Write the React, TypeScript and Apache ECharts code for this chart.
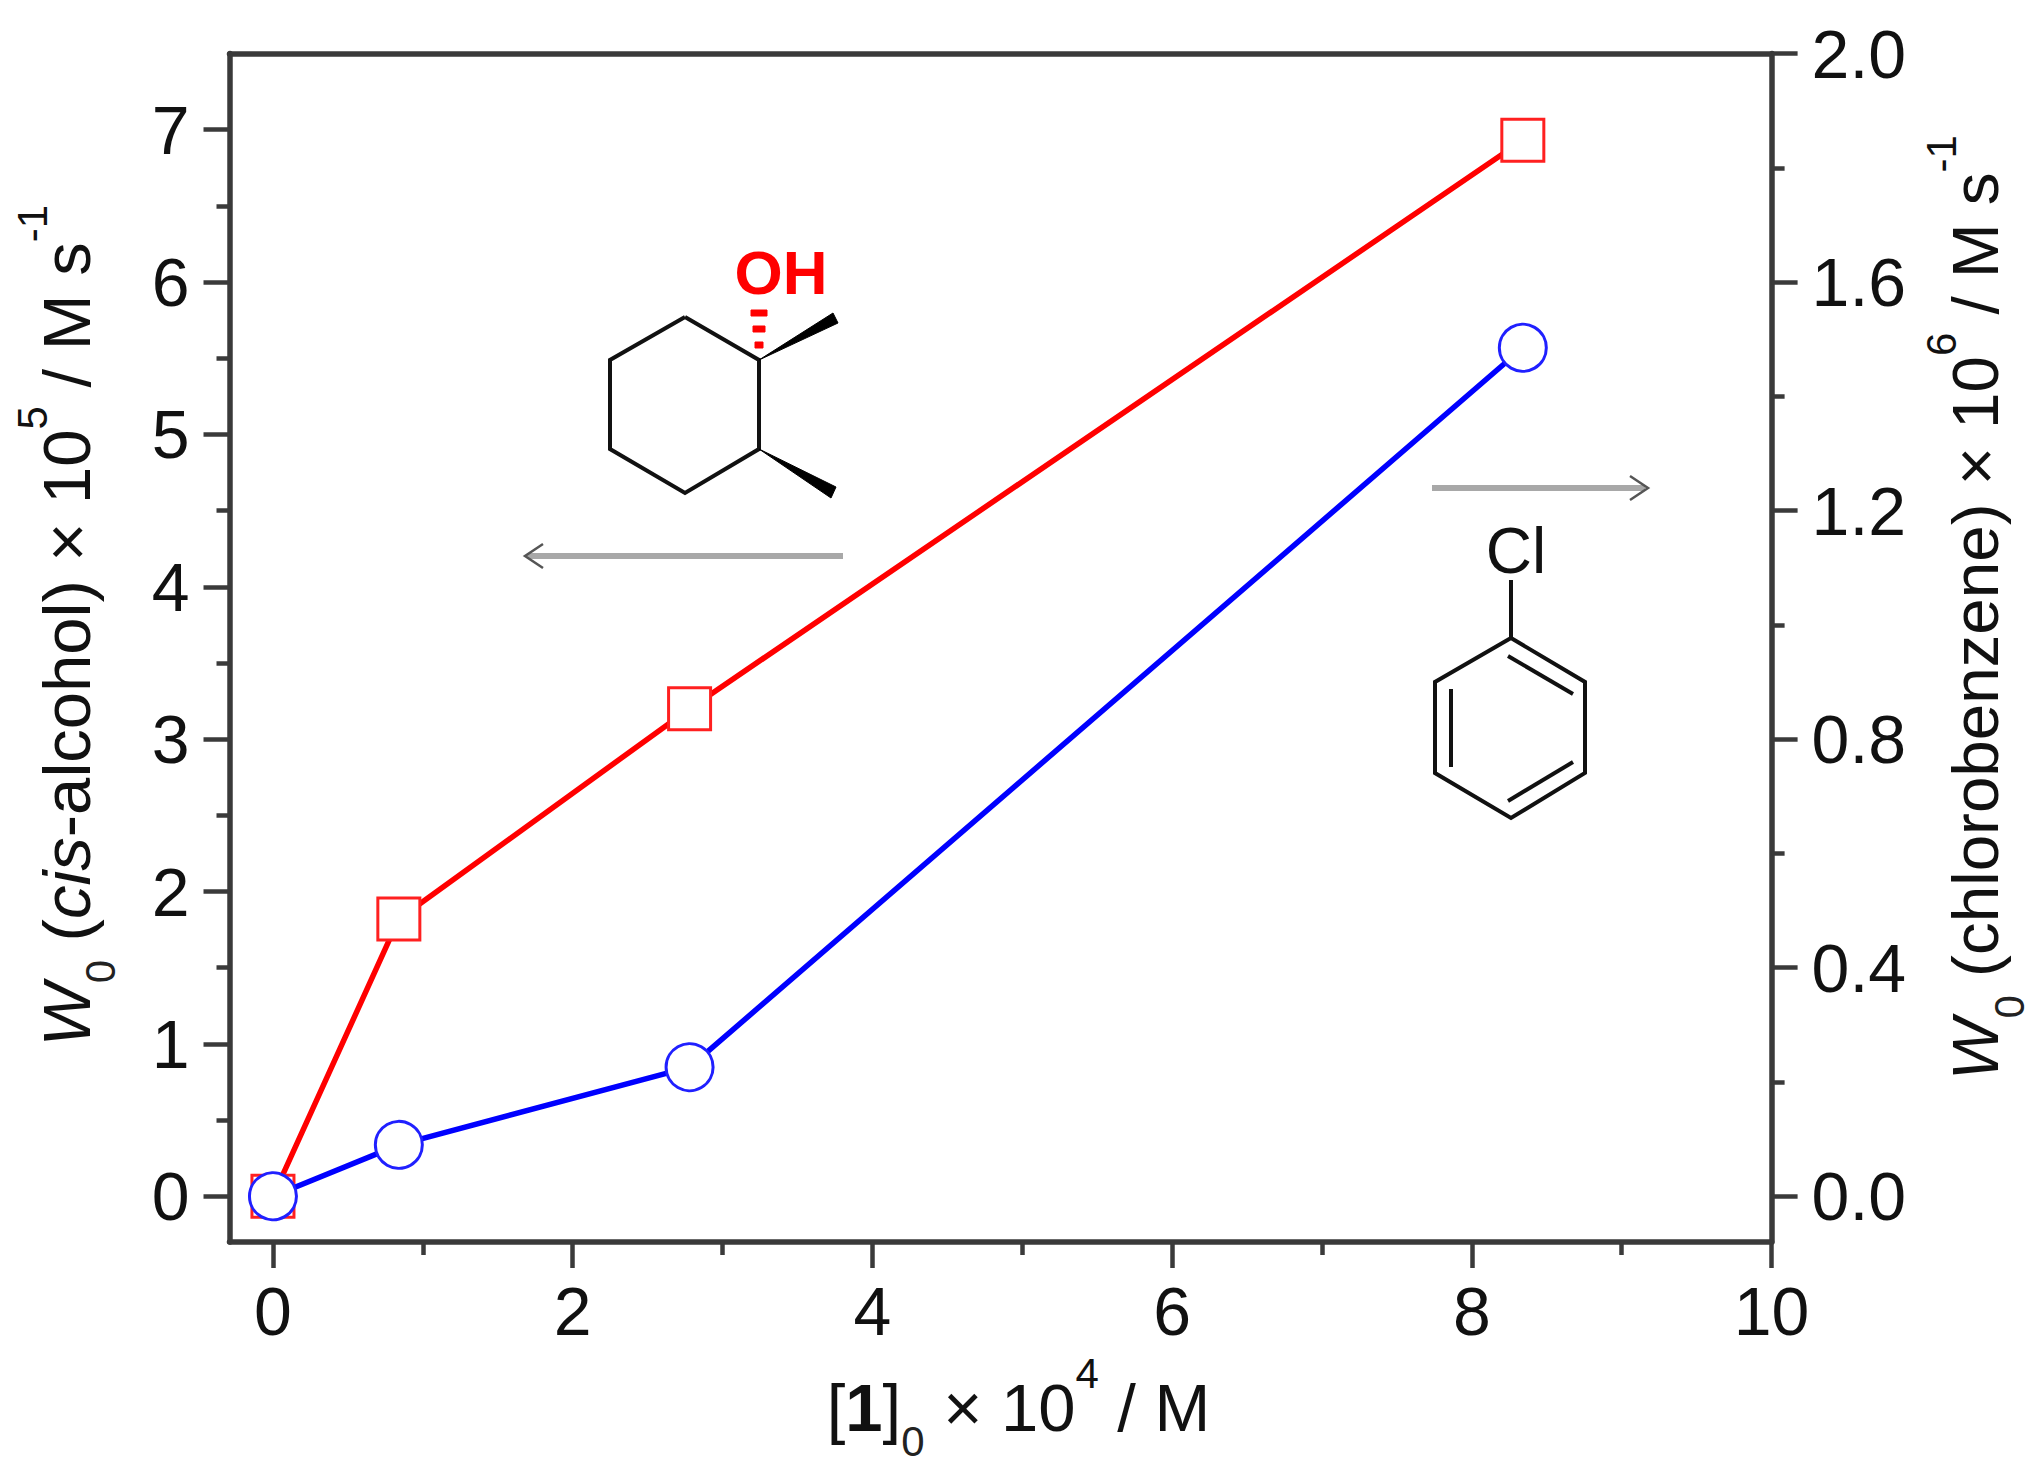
import React, { useEffect, useRef } from "react";
import * as echarts from "echarts";

const concentration = [0, 0.84, 2.78, 8.34];
const cisAlcohol = [0, 1.82, 3.2, 6.93];
const chlorobenzene = [0, 0.09, 0.226, 1.485];

const xMajorTicks = [0, 2, 4, 6, 8, 10];
const xMinorTicks = [1, 3, 5, 7, 9];
const leftMajorTicks = [0, 1, 2, 3, 4, 5, 6, 7];
const leftMinorTicks = [0.5, 1.5, 2.5, 3.5, 4.5, 5.5, 6.5];
const rightMajorTicks = [0, 0.4, 0.8, 1.2, 1.6, 2.0];
const rightMinorTicks = [0.2, 0.6, 1.0, 1.4, 1.8];

const FONT = "Liberation Sans";
const AXIS = "#3a3a3a";

const makeRich = (size: number) => ({
  n: { fontFamily: FONT, fontSize: size, color: "#111", lineHeight: 110, verticalAlign: "middle" },
  i: { fontFamily: FONT, fontSize: size, fontStyle: "italic", color: "#111", lineHeight: 110, verticalAlign: "middle" },
  b: { fontFamily: FONT, fontSize: size, fontWeight: "bold", color: "#111", lineHeight: 110, verticalAlign: "middle" },
  sup: { fontFamily: FONT, fontSize: 42, color: "#111", lineHeight: 70, verticalAlign: "top" },
  sub: { fontFamily: FONT, fontSize: 42, color: "#222", lineHeight: 62, verticalAlign: "bottom" },
});

const seg = (pts: number[][], width = 4, stroke = "#111") => ({
  type: "polyline",
  shape: { points: pts },
  style: { stroke, lineWidth: width, fill: null, lineJoin: "miter" },
  silent: true,
});

const poly = (pts: number[][], fill: string) => ({
  type: "polygon",
  shape: { points: pts },
  style: { fill, stroke: fill, lineWidth: 1 },
  silent: true,
});

const label = (text: string, x: number, y: number, size: number, color: string, weight: string) => ({
  type: "text",
  x,
  y,
  style: {
    text,
    fontFamily: FONT,
    fontSize: size,
    fontWeight: weight,
    fill: color,
    align: "center",
    verticalAlign: "middle",
  },
  silent: true,
});

const annotations = [
  seg([[685, 317], [759, 360], [759, 449], [685, 493], [610, 449], [610, 360], [685, 317]]),
  poly([[759, 360], [833, 313], [838, 323]], "#000"),
  poly([[759, 449], [836, 487], [831, 498]], "#000"),
  poly([[751, 310], [767, 310], [767, 316], [751, 316]], "#ff0000"),
  poly([[753, 326], [765, 326], [765, 332], [753, 332]], "#ff0000"),
  poly([[755, 342], [763, 342], [763, 348], [755, 348]], "#ff0000"),
  label("OH", 781, 272, 62, "#ff0000", "bold"),
  seg([[843, 556], [527, 556]], 6, "#a8a8a8"),
  seg([[543, 544], [525, 556], [543, 568]], 2.5, "#555"),
  seg([[1432, 488], [1645, 488]], 6, "#a8a8a8"),
  seg([[1630, 476], [1648, 488], [1630, 500]], 2.5, "#555"),
  label("Cl", 1516, 551, 64, "#111", "normal"),
  seg([[1511, 580], [1511, 638]]),
  seg([[1511, 638], [1585, 682], [1585, 773], [1511, 818], [1435, 773], [1435, 682], [1511, 638]]),
  seg([[1508, 656], [1573, 694]]),
  seg([[1451, 689], [1451, 767]]),
  seg([[1508, 801], [1573, 762]]),
];

const xBase = { type: "value", min: -0.29, max: 10, splitLine: { show: false } };
const leftBase = { type: "value", min: -0.3, max: 7.5, splitLine: { show: false } };
const rightBase = { type: "value", min: -0.08, max: 2.0, splitLine: { show: false } };
const line = { show: true, onZero: false, lineStyle: { color: AXIS, width: 5.5 } };
const noLine = { show: false, onZero: false };
const major = (customValues: number[]) => ({
  show: true,
  length: 26,
  customValues,
  lineStyle: { color: AXIS, width: 4.5 },
});
const minor = (customValues: number[]) => ({
  show: true,
  length: 13,
  customValues,
  lineStyle: { color: AXIS, width: 4.5 },
});
const tickLabel = (
  customValues: number[],
  margin: number,
  padding: number[],
  formatter?: (v: number) => string
) => ({
  show: true,
  customValues,
  margin,
  padding,
  fontFamily: FONT,
  fontSize: 68,
  color: "#111",
  formatter,
});

export default function App() {
  const ref = useRef<HTMLDivElement>(null);
  useEffect(() => {
    const chart = echarts.init(ref.current!, null, { renderer: "svg" });
    chart.setOption({
      animation: false,
      backgroundColor: "#fff",
      grid: { left: 229.5, right: 272.4, top: 53.5, bottom: 232, containLabel: false, outerBoundsMode: "none" },
      xAxis: [
        {
          ...xBase,
          position: "bottom",
          axisLine: line,
          axisTick: major(xMajorTicks),
          axisLabel: tickLabel(xMajorTicks, 35, [0, 0, 0, 0]),
          name: "{n|[}{b|1}{n|]}{sub|0}{n| × 10}{sup|4}{n| / M}",
          nameLocation: "middle",
          nameGap: 110,
          nameMoveOverlap: false,
          nameTextStyle: { rich: makeRich(67), padding: [0, 0, 0, 36] },
        },
        { ...xBase, position: "bottom", axisLine: noLine, axisTick: minor(xMinorTicks), axisLabel: { show: false } },
        { ...xBase, position: "top", axisLine: line, axisTick: { show: false }, axisLabel: { show: false } },
      ],
      yAxis: [
        {
          ...leftBase,
          position: "left",
          axisLine: line,
          axisTick: major(leftMajorTicks),
          axisLabel: tickLabel(leftMajorTicks, 40, [0, 0, 8, 0]),
          name: "{i|W}{sub|0}{n| (}{i|cis}{n|-alcohol) × 10}{sup|5}{n| / M s}{sup|-1}",
          nameLocation: "middle",
          nameRotate: 90,
          nameGap: 108,
          nameMoveOverlap: false,
          nameTextStyle: { rich: makeRich(67), padding: [0, 0, 0, 44] },
        },
        { ...leftBase, position: "left", axisLine: noLine, axisTick: minor(leftMinorTicks), axisLabel: { show: false } },
        {
          ...rightBase,
          position: "right",
          axisLine: line,
          axisTick: major(rightMajorTicks),
          axisLabel: tickLabel(rightMajorTicks, 40, [0, 0, 8, 0], (v: number) => v.toFixed(1)),
          name: "{i|W}{sub|0}{n| (chlorobenzene) × 10}{sup|6}{n| / M s}{sup|-1}",
          nameLocation: "middle",
          nameRotate: 90,
          nameGap: 149,
          nameMoveOverlap: false,
          nameTextStyle: { rich: makeRich(65.5), padding: [0, 0, 0, 80] },
        },
        { ...rightBase, position: "right", axisLine: noLine, axisTick: minor(rightMinorTicks), axisLabel: { show: false } },
      ],
      series: [
        {
          name: "cis-alcohol",
          type: "line",
          xAxisIndex: 0,
          yAxisIndex: 0,
          data: concentration.map((x, i) => [x, cisAlcohol[i]]),
          lineStyle: { color: "#ff0000", width: 5.5 },
          symbol: "rect",
          symbolSize: 42,
          showAllSymbol: true,
          itemStyle: { color: "#fff", borderColor: "#ff2020", borderWidth: 3, opacity: 1 },
          z: 3,
        },
        {
          name: "chlorobenzene",
          type: "line",
          xAxisIndex: 0,
          yAxisIndex: 2,
          data: concentration.map((x, i) => [x, chlorobenzene[i]]),
          lineStyle: { color: "#0000ff", width: 5.5 },
          symbol: "circle",
          symbolSize: 47,
          showAllSymbol: true,
          itemStyle: { color: "#fff", borderColor: "#2020ff", borderWidth: 3, opacity: 1 },
          z: 4,
        },
      ],
      graphic: annotations,
    });
    return () => chart.dispose();
  }, []);
  return (
    <div
      ref={ref}
      style={{ position: "absolute", left: 0, top: 0, width: 2044, height: 1474 }}
    />
  );
}
